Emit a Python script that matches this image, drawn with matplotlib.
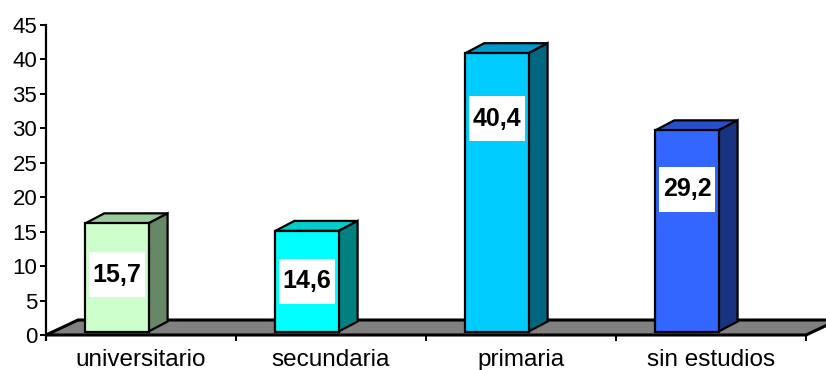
import matplotlib
matplotlib.use("Agg")
import matplotlib.pyplot as plt
from matplotlib.patches import Polygon, Rectangle

plt.rcParams['font.family'] = ['Liberation Sans', 'DejaVu Sans']

# Data
categories = ["universitario", "secundaria", "primaria", "sin estudios"]
values = [15.7, 14.6, 40.4, 29.2]
value_labels = ["15,7", "14,6", "40,4", "29,2"]
yticks = [0, 5, 10, 15, 20, 25, 30, 35, 40, 45]

# Colours for each bar: front, top, side
front_colors = ["#CCFFCC", "#00FFFF", "#00CCFF", "#3366FF"]
top_colors = ["#99CC99", "#00CCCC", "#0099CC", "#2850CC"]
side_colors = ["#668866", "#008080", "#006680", "#1A3380"]

W, H, DPI = 826, 370, 100
fig = plt.figure(figsize=(W / DPI, H / DPI), dpi=DPI)

# axes: x from 0..4 (category slots), y from 0..45
x0_px, x1_px = 46, 806
y0_px, y1_px = 335, 25
ax = fig.add_axes([x0_px / W, (H - y0_px) / H, (x1_px - x0_px) / W, (y0_px - y1_px) / H])
ax.set_xlim(0, 4)
ax.set_ylim(0, 45)
ax.patch.set_alpha(0)

px_x = 4 / (x1_px - x0_px)     # x data units per pixel
px_y = 45 / (y0_px - y1_px)    # y data units per pixel

# 3D offsets (in pixels converted to data units)
floor_dx, floor_dy = 32 * px_x, 15 * px_y
bar_dx, bar_dy = 19 * px_x, 10 * px_y
bar_base = 3.5 * px_y
bar_w = 0.333
bar_shift = 0.207

# floor
floor = Polygon([(0, 0), (4, 0), (4 + floor_dx, floor_dy), (floor_dx, floor_dy)],
                closed=True, facecolor="#808080", edgecolor="black", lw=2.2,
                clip_on=False, zorder=1, joinstyle="miter")
ax.add_patch(floor)

# front faces of the bars
lefts = [i + bar_shift for i in range(len(values))]
bars = ax.bar(lefts, values, width=bar_w, bottom=bar_base, align="edge",
              color=front_colors, edgecolor="black", linewidth=1.6, zorder=4,
              clip_on=False)

for i, (left, v) in enumerate(zip(lefts, values)):
    top = bar_base + v
    right = left + bar_w
    # top face
    ax.add_patch(Polygon([(left, top), (right, top), (right + bar_dx, top + bar_dy),
                          (left + bar_dx, top + bar_dy)], closed=True,
                         facecolor=top_colors[i], edgecolor="black", lw=1.6,
                         zorder=3, clip_on=False, joinstyle="miter"))
    # side face
    ax.add_patch(Polygon([(right, bar_base), (right + bar_dx, bar_base + bar_dy),
                          (right + bar_dx, top + bar_dy), (right, top)], closed=True,
                         facecolor=side_colors[i], edgecolor="black", lw=1.6,
                         zorder=3, clip_on=False, joinstyle="miter"))
    # value label in a white box
    cx = left + bar_w / 2
    cy = 0.916 * v - 5.6
    bw, bh = 56 * px_x, 45 * px_y
    ax.add_patch(Rectangle((cx - bw / 2, cy - bh / 2), bw, bh, facecolor="white",
                           edgecolor="none", zorder=5))
    ax.text(cx, cy, value_labels[i], ha="center", va="center", fontsize=18,
            fontweight="bold", zorder=6)

# axes styling
for s in ["top", "right", "bottom"]:
    ax.spines[s].set_visible(False)
ax.spines["left"].set_linewidth(1.6)
ax.spines["left"].set_zorder(7)
ax.plot([0, 0], [0, -5.5 * px_y], color="black", lw=1.6, clip_on=False, zorder=7,
        solid_capstyle="butt")

ax.set_yticks(yticks)
ax.set_yticklabels([str(t) for t in yticks])
ax.tick_params(axis="y", direction="out", length=4.3, width=1.4, pad=2, labelsize=16)

ax.set_xticks([1, 2, 3, 4])
ax.set_xticklabels([])
ax.set_xticks([i + 0.5 for i in range(len(categories))], minor=True)
ax.set_xticklabels(categories, minor=True)
ax.tick_params(axis="x", which="major", direction="out", length=4.3, width=1.4)
ax.tick_params(axis="x", which="minor", length=0, pad=10, labelsize=17.5)

fig.savefig("out.png", dpi=DPI)
